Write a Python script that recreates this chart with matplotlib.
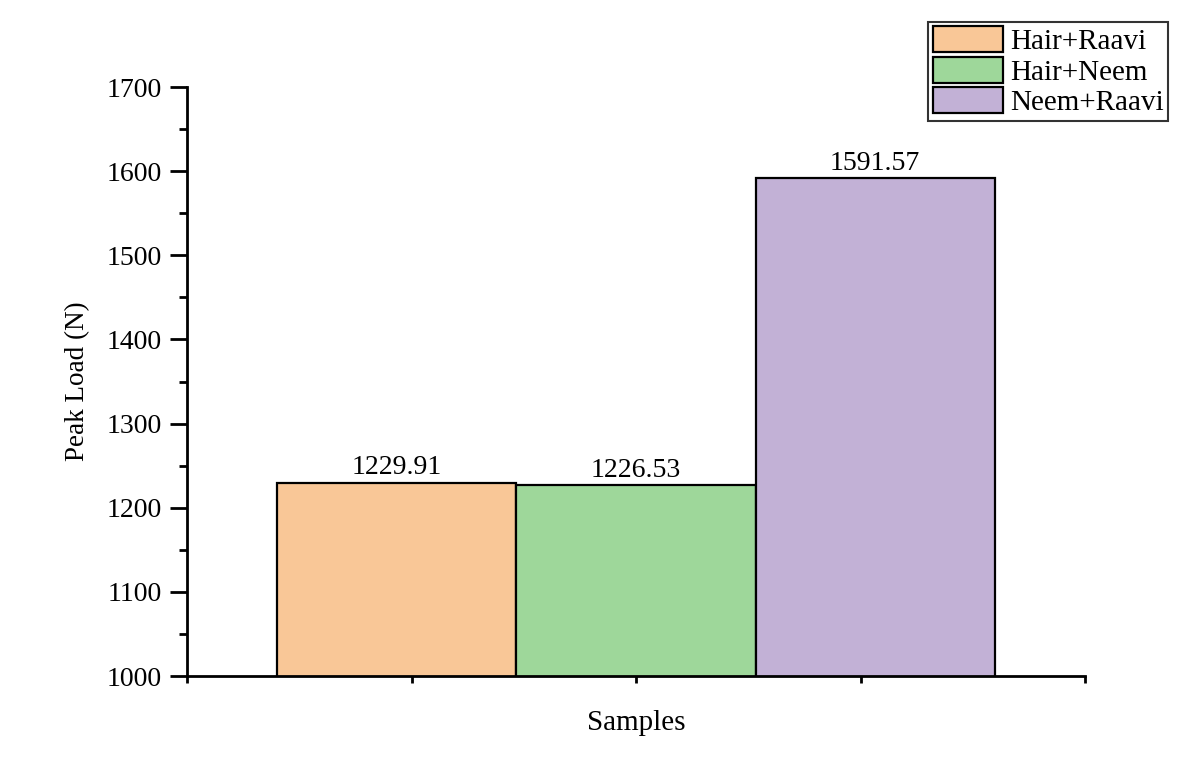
import matplotlib
matplotlib.use("Agg")
import matplotlib.pyplot as plt
from matplotlib.ticker import MultipleLocator, NullFormatter

samples = ["Hair+Raavi", "Hair+Neem", "Neem+Raavi"]
peak_load = [1229.91, 1226.53, 1591.57]
labels = ["1229.91", "1226.53", "1591.57"]
colors = ["#F9C797", "#9ED79A", "#C2B1D6"]

plt.rcParams['font.family'] = ['Liberation Serif', 'DejaVu Serif']

fig = plt.figure(figsize=(11.94, 7.8), dpi=100)
ax = fig.add_axes([187/1194, 1-676/780, (1085-187)/1194, (676-87)/780])

width = 1.065
center = 2.0
for i, (name, val, col, lab) in enumerate(zip(samples, peak_load, colors, labels)):
    x = center + (i - 1) * width
    ax.bar(x, val, width=width, color=col, edgecolor='black', linewidth=1.6, label=name, zorder=2)
    ax.text(x, val + 3, lab, ha='center', va='bottom', fontsize=20)

ax.set_xlim(0, 4)
ax.set_ylim(1000, 1700)
ax.set_xticks([0, 1, 2, 3, 4])
ax.xaxis.set_major_formatter(NullFormatter())
ax.yaxis.set_major_locator(MultipleLocator(100))
ax.yaxis.set_minor_locator(MultipleLocator(50))
ax.tick_params(axis='y', which='major', direction='out', length=12, width=2, labelsize=20, pad=6)
ax.tick_params(axis='y', which='minor', direction='out', length=6, width=2)
ax.tick_params(axis='x', which='major', direction='out', length=5, width=2)

for s in ['top', 'right']:
    ax.spines[s].set_visible(False)
for s in ['left', 'bottom']:
    ax.spines[s].set_linewidth(2)

ax.set_ylabel("Peak Load (N)", fontsize=19.5, labelpad=12)
ax.set_xlabel("Samples", fontsize=21, labelpad=16)

leg = ax.legend(loc='upper right', bbox_to_anchor=(1168/1194, 1-22/780), bbox_transform=fig.transFigure,
                fontsize=21, frameon=True, fancybox=False, edgecolor='black',
                handlelength=2.4, handleheight=1.0, handletextpad=0.25, borderpad=0.15,
                labelspacing=0.05, borderaxespad=0)
leg.get_frame().set_linewidth(1.5)

fig.savefig("out.png", dpi=100)
